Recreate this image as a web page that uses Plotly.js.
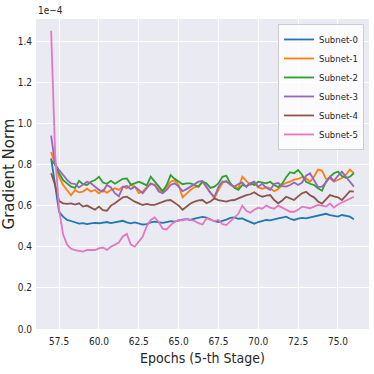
<!DOCTYPE html>
<html>
<head>
<meta charset="utf-8">
<script src="https://cdn.plot.ly/plotly-3.0.1.min.js"></script>
<style>
  html, body { margin: 0; padding: 0; background: #fff; }
  #chart { width: 374px; height: 374px; }
</style>
</head>
<body>
<div id="chart"></div>
<script>
const NARROW = '"Liberation Sans Narrow", "DejaVu Sans Condensed", "Arial Narrow", sans-serif';

const epochs = [
  57.0, 57.25, 57.5, 57.75, 58.0, 58.25, 58.5, 58.75, 59.0, 59.25, 59.5, 59.75,
  60.0, 60.25, 60.5, 60.75, 61.0, 61.25, 61.5, 61.75, 62.0, 62.25, 62.5, 62.75,
  63.0, 63.25, 63.5, 63.75, 64.0, 64.25, 64.5, 64.75, 65.0, 65.25, 65.5, 65.75,
  66.0, 66.25, 66.5, 66.75, 67.0, 67.25, 67.5, 67.75, 68.0, 68.25, 68.5, 68.75,
  69.0, 69.25, 69.5, 69.75, 70.0, 70.25, 70.5, 70.75, 71.0, 71.25, 71.5, 71.75,
  72.0, 72.25, 72.5, 72.75, 73.0, 73.25, 73.5, 73.75, 74.0, 74.25, 74.5, 74.75,
  75.0, 75.25, 75.5, 75.75, 76.0
];

// gradient norm, in units of 1e-4
const subnet0 = [
  0.83, 0.71, 0.57, 0.546, 0.530, 0.525, 0.518, 0.512, 0.515, 0.510, 0.514, 0.516,
  0.514, 0.518, 0.520, 0.515, 0.518, 0.522, 0.526, 0.518, 0.514, 0.518, 0.512, 0.508,
  0.510, 0.518, 0.522, 0.520, 0.516, 0.520, 0.524, 0.522, 0.528, 0.532, 0.534, 0.530,
  0.536, 0.540, 0.545, 0.542, 0.534, 0.524, 0.520, 0.525, 0.532, 0.540, 0.542, 0.536,
  0.538, 0.528, 0.520, 0.512, 0.520, 0.526, 0.530, 0.528, 0.534, 0.538, 0.542, 0.546,
  0.536, 0.530, 0.536, 0.540, 0.538, 0.542, 0.546, 0.550, 0.556, 0.560, 0.554, 0.550,
  0.546, 0.554, 0.550, 0.546, 0.533
];
const subnet1 = [
  0.86, 0.80, 0.74, 0.70, 0.672, 0.650, 0.676, 0.664, 0.668, 0.682, 0.668, 0.676,
  0.660, 0.676, 0.662, 0.676, 0.684, 0.676, 0.692, 0.684, 0.700, 0.692, 0.660, 0.668,
  0.690, 0.704, 0.700, 0.680, 0.662, 0.690, 0.716, 0.724, 0.700, 0.640, 0.660, 0.676,
  0.690, 0.692, 0.716, 0.690, 0.662, 0.635, 0.676, 0.710, 0.720, 0.700, 0.692, 0.684,
  0.740, 0.720, 0.700, 0.710, 0.688, 0.682, 0.690, 0.684, 0.670, 0.680, 0.700, 0.710,
  0.716, 0.726, 0.730, 0.738, 0.732, 0.716, 0.740, 0.775, 0.770, 0.730, 0.732, 0.716,
  0.724, 0.734, 0.750, 0.775, 0.757
];
const subnet2 = [
  0.82, 0.80, 0.757, 0.724, 0.708, 0.692, 0.686, 0.720, 0.704, 0.700, 0.716, 0.724,
  0.740, 0.712, 0.706, 0.720, 0.706, 0.716, 0.730, 0.732, 0.702, 0.708, 0.716, 0.708,
  0.698, 0.740, 0.716, 0.695, 0.670, 0.700, 0.748, 0.730, 0.716, 0.704, 0.708, 0.708,
  0.700, 0.692, 0.716, 0.708, 0.686, 0.692, 0.708, 0.740, 0.745, 0.708, 0.686, 0.676,
  0.700, 0.694, 0.708, 0.700, 0.716, 0.712, 0.708, 0.716, 0.700, 0.690, 0.706, 0.738,
  0.762, 0.757, 0.773, 0.750, 0.716, 0.706, 0.700, 0.684, 0.672, 0.716, 0.740, 0.757,
  0.765, 0.744, 0.735, 0.740, 0.757
];
const subnet3 = [
  0.94, 0.80, 0.773, 0.750, 0.725, 0.708, 0.705, 0.688, 0.700, 0.716, 0.708, 0.692,
  0.676, 0.668, 0.700, 0.688, 0.660, 0.645, 0.690, 0.695, 0.680, 0.692, 0.676, 0.660,
  0.684, 0.708, 0.700, 0.668, 0.660, 0.676, 0.700, 0.708, 0.692, 0.670, 0.680, 0.692,
  0.708, 0.716, 0.720, 0.692, 0.662, 0.643, 0.690, 0.716, 0.716, 0.704, 0.692, 0.705,
  0.712, 0.690, 0.708, 0.716, 0.692, 0.706, 0.686, 0.676, 0.706, 0.710, 0.695, 0.692,
  0.700, 0.712, 0.700, 0.712, 0.745, 0.757, 0.725, 0.690, 0.692, 0.712, 0.740, 0.720,
  0.745, 0.765, 0.740, 0.716, 0.692
];
const subnet4 = [
  0.757, 0.70, 0.622, 0.611, 0.608, 0.611, 0.605, 0.611, 0.595, 0.600, 0.590, 0.580,
  0.595, 0.578, 0.575, 0.600, 0.611, 0.627, 0.640, 0.643, 0.630, 0.619, 0.611, 0.603,
  0.608, 0.603, 0.603, 0.610, 0.619, 0.625, 0.627, 0.615, 0.600, 0.580, 0.595, 0.610,
  0.619, 0.625, 0.627, 0.611, 0.620, 0.635, 0.627, 0.622, 0.619, 0.625, 0.627, 0.635,
  0.643, 0.651, 0.655, 0.665, 0.651, 0.643, 0.648, 0.651, 0.627, 0.611, 0.625, 0.643,
  0.635, 0.627, 0.645, 0.660, 0.667, 0.650, 0.640, 0.620, 0.610, 0.630, 0.651, 0.645,
  0.640, 0.627, 0.650, 0.670, 0.668
];
const subnet5 = [
  1.45, 0.85, 0.58, 0.46, 0.41, 0.39, 0.384, 0.380, 0.376, 0.384, 0.384, 0.384,
  0.392, 0.396, 0.384, 0.400, 0.410, 0.420, 0.450, 0.462, 0.410, 0.400, 0.425, 0.450,
  0.500, 0.530, 0.542, 0.520, 0.488, 0.484, 0.505, 0.520, 0.530, 0.528, 0.535, 0.530,
  0.525, 0.515, 0.508, 0.538, 0.530, 0.525, 0.530, 0.510, 0.505, 0.525, 0.540, 0.560,
  0.600, 0.575, 0.565, 0.580, 0.590, 0.585, 0.600, 0.590, 0.585, 0.600, 0.590, 0.578,
  0.570, 0.570, 0.580, 0.595, 0.590, 0.587, 0.595, 0.603, 0.600, 0.595, 0.610, 0.590,
  0.605, 0.615, 0.625, 0.635, 0.643
];

const names = ['Subnet-0', 'Subnet-1', 'Subnet-2', 'Subnet-3', 'Subnet-4', 'Subnet-5'];
const series = [subnet0, subnet1, subnet2, subnet3, subnet4, subnet5];
const colors = ['#1f77b4', '#ff7f0e', '#2ca02c', '#9467bd', '#8c564b', '#e377c2'];

const xTicks = [57.5, 60.0, 62.5, 65.0, 67.5, 70.0, 72.5, 75.0];
const yTicks = [0.0, 0.2, 0.4, 0.6, 0.8, 1.0, 1.2, 1.4];

function buildTrace(values, i) {
    return {
        x: epochs,
        y: values,
        type: 'scatter',
        mode: 'lines',
        name: names[i],
        line: { color: colors[i], width: 1.8 },
    };
}

const data = series.map(buildTrace);

const layout = {
    width: 374,
    height: 374,
    margin: { l: 36, r: 5, t: 19, b: 45 },
    paper_bgcolor: '#ffffff',
    plot_bgcolor: '#eaeaf2',
    font: { family: NARROW, size: 10, color: '#262626' },
    showlegend: true,
    legend: {
        x: 0.985,
        y: 0.984,
        xanchor: 'right',
        yanchor: 'top',
        bgcolor: 'rgba(255,255,255,0.8)',
        bordercolor: '#cccccc',
        borderwidth: 1,
        font: { family: NARROW, size: 9.5, color: '#262626' },
        tracegroupgap: 0,
    },
    xaxis: {
        range: [56.05, 76.95],
        tickvals: xTicks,
        ticktext: xTicks.map(v => v.toFixed(1)),
        showgrid: true,
        gridcolor: '#ffffff',
        gridwidth: 1,
        zeroline: false,
        showline: false,
        ticks: '',
        ticklabelstandoff: 5,
        tickfont: { family: NARROW, size: 10, color: '#262626' },
        title: {
            text: 'Epochs (5-th Stage)',
            font: { family: NARROW, size: 14, color: '#262626' },
            standoff: 7,
        },
        automargin: false,
    },
    yaxis: {
        range: [0, 1.507],
        tickvals: yTicks,
        ticktext: yTicks.map(v => v.toFixed(1)),
        showgrid: true,
        gridcolor: '#ffffff',
        gridwidth: 1,
        zeroline: false,
        showline: false,
        ticks: '',
        ticklabelstandoff: 3,
        tickfont: { family: NARROW, size: 10, color: '#262626' },
        title: {
            text: 'Gradient Norm',
            font: { family: 'DejaVu Sans, sans-serif', size: 15, color: '#262626' },
            standoff: 5,
        },
        automargin: false,
    },
    annotations: [{
        text: '1e\u22124',
        xref: 'paper',
        yref: 'paper',
        x: 0,
        y: 1,
        xanchor: 'left',
        yanchor: 'bottom',
        showarrow: false,
        yshift: 1,
        font: { family: NARROW, size: 10, color: '#262626' },
    }],
};

Plotly.newPlot('chart', data, layout, {
    displayModeBar: false,
    staticPlot: true,
});
</script>
</body>
</html>
